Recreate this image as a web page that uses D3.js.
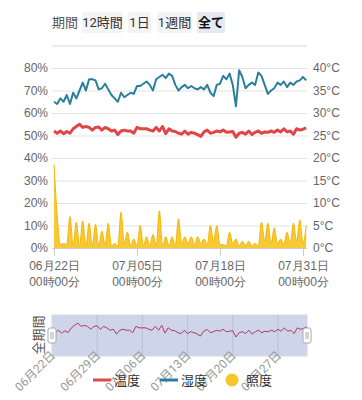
<!DOCTYPE html>
<html>
<head>
<meta charset="utf-8">
<script src="https://cdn.jsdelivr.net/npm/d3@7"></script>
<style>
  body { margin: 0; background: #fff; }
  svg { display: block; font-family: Roboto, "Noto Sans CJK JP", sans-serif; }
  .grid line { stroke: #e3e3e3; }
  .grid path { display: none; }
  .ylab text { fill: #666; font-size: 12px; }
  .ylab path, .ylab line { display: none; }
</style>
</head>
<body>
<svg id="chart" width="362" height="400"></svg>
<script>
'use strict'

// 12時間ごとの値 (06/22 00:00 から)
const humidity = [
  65, 64, 66.5, 65, 68, 64, 69, 66.5, 70, 73.5,
  70, 75, 75, 74.5, 70.5, 71, 73, 70.5, 68, 66.5,
  65, 69, 67, 68, 69, 68.5, 72, 72, 73, 74,
  72.5, 70, 75, 76, 77, 75.5, 77.5, 76.5, 72.5, 70,
  71.5, 72.5, 71, 72, 71, 70.5, 71.5, 70.5, 72.5, 69,
  67.5, 72.5, 73, 76.5, 75, 77.5, 72.5, 63, 79, 76,
  71, 72.5, 73.5, 72.5, 78, 76.5, 72.5, 68.5, 70, 71,
  73.5, 72.5, 74, 71.5, 73.5, 72.5, 74, 74.5, 76, 74.5
]
const temperature = [
  26, 25.5, 26, 25.4, 25.9, 25.5, 26.5, 27, 27.5, 26.8,
  27, 26.8, 26.2, 26.8, 26.9, 26.2, 26.8, 26.5, 26, 26.2,
  25.2, 26, 26.2, 26, 26, 25.5, 26.8, 26.5, 26.5, 26.5,
  26.2, 26, 26.8, 26, 27, 25.4, 26.5, 26, 25.9, 25.5,
  25.3, 26, 25.3, 25.7, 25.5, 25.2, 24.8, 25.8, 26.2, 25.5,
  25.7, 26, 25.8, 26.2, 25.7, 25.8, 25.9, 24.6, 25.5, 25.7,
  25.3, 26, 25.2, 25.7, 26, 25.5, 25.8, 25.7, 26, 25.7,
  26.2, 25.8, 26.5, 25.8, 26, 25.3, 26.5, 26.2, 26.4, 26.7
]
const illuminance = [
  37, 14.5, 1.5, 2, 1.5, 14, 1, 11.5, 1, 12,
  1, 11, 1, 10.5, 1, 7.5, 1.5, 11, 1, 2,
  1, 16, 2, 7, 1, 4, 1, 10, 1, 5,
  1, 6, 1, 16.5, 1, 5, 1, 5, 1, 13,
  2, 5, 2, 5, 1.5, 5, 2, 4, 1.5, 10,
  3, 10, 1.5, 1.5, 1, 7, 2, 4, 1, 3,
  1, 3, 1, 2, 1, 11.5, 3, 11, 2, 9,
  2, 4, 1.5, 7, 2, 11, 3, 12.5, 2, 10
]
const periodButtons = ['12時間', '1日', '1週間', '全て']
const leftTicks = [0, 10, 20, 30, 40, 50, 60, 70, 80]
const rightTicks = [0, 5, 10, 15, 20, 25, 30, 35, 40]
const axisDates = ['2023-06-22', '2023-07-05', '2023-07-18', '2023-07-31']
const sliderDates = ['2023-06-22', '2023-06-29', '2023-07-06', '2023-07-13', '2023-07-20', '2023-07-27']
const legendItems = ['温度', '湿度', '照度']

const colors = { temp: '#e04646', hum: '#2a7f9b', lux: '#f8c52a', luxLine: '#f2b705' }

const start = new Date(2023, 5, 22, 0, 0)
const times = humidity.map((d, i) => new Date(start.getTime() + i * 12 * 3600 * 1000))
const parse = d3.timeParse('%Y-%m-%d')

const svg = d3.select('#chart')

// 期間ボタン
svg.append('text').attr('x', 52).attr('y', 27).attr('font-size', 13).attr('fill', '#555').text('期間')
const btnX = [82, 128, 157, 197]
const btnW = [41, 23, 35, 28]
periodButtons.forEach((b, i) => {
  svg.append('rect')
    .attr('x', btnX[i]).attr('y', 12).attr('width', btnW[i]).attr('height', 21)
    .attr('rx', 2)
    .attr('fill', i === 3 ? '#e4e9f2' : '#f3f4f6')
  svg.append('text')
    .attr('x', btnX[i] + btnW[i] / 2).attr('y', 27)
    .attr('text-anchor', 'middle')
    .attr('font-size', 13)
    .attr('font-weight', i === 3 ? 'bold' : 'normal')
    .attr('fill', i === 3 ? '#111' : '#333')
    .text(b)
})
svg.append('line').attr('x1', 52).attr('x2', 307).attr('y1', 46).attr('y2', 46)
  .attr('stroke', '#ececec').attr('stroke-width', 2)

// メインチャート
const x = d3.scaleTime().domain([parse(axisDates[0]), parse(axisDates[3])]).range([54, 303])
const yL = d3.scaleLinear().domain([0, 80]).range([248, 68])
const yR = d3.scaleLinear().domain([0, 40]).range([248, 68])

svg.append('g')
  .attr('class', 'grid')
  .attr('transform', 'translate(52,0)')
  .call(d3.axisLeft(yL).tickValues(leftTicks).tickSize(-255).tickFormat(''))

svg.append('g')
  .attr('class', 'ylab')
  .attr('transform', 'translate(52,0)')
  .call(d3.axisLeft(yL).tickValues(leftTicks).tickSize(0).tickPadding(4).tickFormat(d => d + '%'))

svg.append('g')
  .attr('class', 'ylab')
  .attr('transform', 'translate(307,0)')
  .call(d3.axisRight(yR).tickValues(rightTicks).tickSize(0).tickPadding(6).tickFormat(d => d + '°C'))

const fmtDay = d3.timeFormat('%m月%d日')
const fmtTime = d3.timeFormat('%H時%M分')
const xAxis = svg.append('g')
  .attr('transform', 'translate(0,248)')
  .call(d3.axisBottom(x).tickValues(axisDates.map(parse)).tickSize(8).tickFormat(''))
xAxis.select('.domain').attr('stroke', '#ccc').attr('d', 'M52,0.5H307')
xAxis.selectAll('.tick line').attr('stroke', '#ccc')
xAxis.selectAll('.tick').each(function(d) {
  const t = d3.select(this).append('text')
    .attr('fill', '#666').attr('font-size', 12).attr('text-anchor', 'middle')
  t.append('tspan').attr('x', 0).attr('y', 22).text(fmtDay(d))
  t.append('tspan').attr('x', 0).attr('y', 38).text(fmtTime(d))
})

const area = d3.area()
  .x((d, i) => x(times[i]))
  .y0(yL(0))
  .y1(d => yL(d))
  .curve(d3.curveMonotoneX)
const luxLine = d3.line().x((d, i) => x(times[i])).y(d => yL(d)).curve(d3.curveMonotoneX)

svg.append('path').datum(illuminance).attr('d', area).attr('fill', colors.lux).attr('opacity', 0.95)
svg.append('path').datum(illuminance).attr('d', luxLine).attr('fill', 'none')
  .attr('stroke', colors.luxLine).attr('stroke-width', 1)

svg.append('path').datum(humidity)
  .attr('d', d3.line().x((d, i) => x(times[i])).y(d => yL(d)))
  .attr('fill', 'none').attr('stroke', colors.hum).attr('stroke-width', 2)
  .attr('stroke-linejoin', 'round')

svg.append('path').datum(temperature)
  .attr('d', d3.line().x((d, i) => x(times[i])).y(d => yR(d)))
  .attr('fill', 'none').attr('stroke', colors.temp).attr('stroke-width', 3)
  .attr('stroke-linejoin', 'round')

// スライダー
const sx = d3.scaleTime().domain([times[0], times[times.length - 1]]).range([52, 307])
const sy = d3.scaleLinear().domain(d3.extent(temperature)).range([337, 323])

svg.append('rect').attr('x', 52).attr('y', 315).attr('width', 255).attr('height', 41)
  .attr('fill', '#ced5ea').attr('stroke', '#d5d8e0')
sliderDates.slice(1).forEach(d => {
  svg.append('line').attr('x1', sx(parse(d))).attr('x2', sx(parse(d)))
    .attr('y1', 315).attr('y2', 356).attr('stroke', '#b9c0d6')
})
svg.append('path').datum(temperature)
  .attr('d', d3.line().x((d, i) => sx(times[i])).y(d => sy(d)))
  .attr('fill', 'none').attr('stroke', '#b3385f').attr('stroke-width', 1)

;[52, 307].forEach(hx => {
  svg.append('rect').attr('x', hx - 4).attr('y', 328).attr('width', 8).attr('height', 15)
    .attr('rx', 2).attr('fill', '#fff').attr('stroke', '#aaa')
  svg.append('line').attr('x1', hx - 1).attr('x2', hx - 1).attr('y1', 332).attr('y2', 339).attr('stroke', '#aaa')
  svg.append('line').attr('x1', hx + 1).attr('x2', hx + 1).attr('y1', 332).attr('y2', 339).attr('stroke', '#aaa')
})

svg.append('text')
  .attr('transform', 'translate(43,335) rotate(-90)')
  .attr('text-anchor', 'middle').attr('font-size', 13).attr('fill', '#555')
  .text('全期間')

sliderDates.forEach(d => {
  svg.append('text')
    .attr('transform', `translate(${sx(parse(d)) + 4},356) rotate(-45)`)
    .attr('text-anchor', 'end').attr('font-size', 12).attr('fill', '#999')
    .text(fmtDay(parse(d)))
})

// 凡例
const legX = [93, 160, 226]
const legColors = [colors.temp, colors.hum, colors.lux]
legendItems.forEach((name, i) => {
  const g = svg.append('g').attr('transform', `translate(${legX[i]},380)`)
  if (i < 2) {
    g.append('line').attr('x1', 0).attr('x2', 18).attr('y1', 0).attr('y2', 0)
      .attr('stroke', legColors[i]).attr('stroke-width', 3)
  } else {
    g.append('circle').attr('cx', 6).attr('cy', 0).attr('r', 6.5).attr('fill', legColors[i])
  }
  g.append('text').attr('x', i < 2 ? 21 : 20).attr('y', 5)
    .attr('font-size', 13).attr('fill', '#333').text(name)
})
</script>
</body>
</html>
